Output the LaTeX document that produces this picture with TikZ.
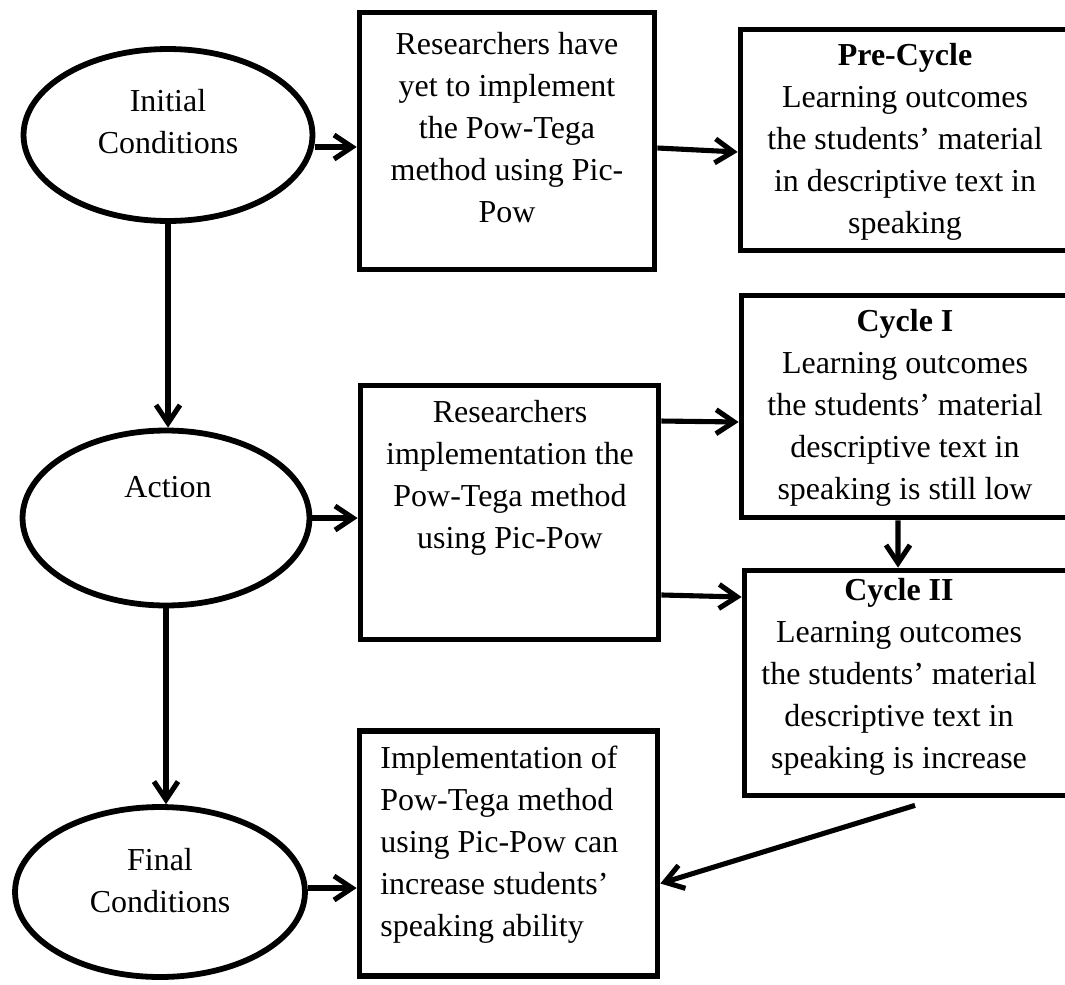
\documentclass[tikz,border=0pt]{standalone}
\usepackage{fontspec}
\setmainfont{Liberation Serif}
\usetikzlibrary{arrows.meta,shapes.geometric}

\tikzset{
  ellip/.style={draw, ellipse, line width=3.3pt, inner sep=0pt},
  boxframe/.style={draw, rectangle, line width=3.3pt, inner sep=0pt},
  txt/.style={font=\fontsize{18.2}{23.9}\selectfont, align=center, inner sep=0pt},
  arr/.style={line width=2.9pt, -{Straight Barb[length=0.36cm,width=0.48cm]}}
}

\begin{document}
\begin{tikzpicture}[x=0.02cm, y=-0.02cm]
        \useasboundingbox (0,0) rectangle (1065,984);
        \clip (0,0) rectangle (1065,984);

        % Initial Conditions
        \node[ellip, minimum width=5.78cm, minimum height=3.44cm] (init) at (168,135) {};
        \node[txt] (initt) at (168,122) {Initial\\Conditions};

        % Action
        \node[ellip, minimum width=5.74cm, minimum height=3.5cm] (act) at (166,518) {};
        \node[txt] (actt) at (168,487) {Action};

        % Final Conditions
        \node[ellip, minimum width=5.8cm, minimum height=3.4cm] (fin) at (160,892) {};
        \node[txt] (fint) at (160,881) {Final\\Conditions};

        % Researchers have yet
        \node[boxframe, minimum width=5.9cm, minimum height=5.14cm] (prep) at (507,141) {};
        \node[txt] (prept) at (507,128) {Researchers have\\yet to implement\\the Pow-Tega\\method using Pic-\\Pow};

        % Researchers implementation
        \node[boxframe, minimum width=5.96cm, minimum height=5.08cm] (impl) at (509.5,512.5) {};
        \node[txt] (implt) at (510,478) {Researchers\\implementation the\\Pow-Tega method\\using Pic-Pow};

        % Implementation of Pow-Tega
        \node[boxframe, minimum width=5.96cm, minimum height=4.9cm] (result) at (508.5,853.5) {};
        \node[txt, align=left, anchor=west] (resultt) at (380,845) {Implementation of\\Pow-Tega method\\using Pic-Pow can\\increase students'\\speaking ability};

        % Pre-Cycle
        \node[boxframe, minimum width=6.58cm, minimum height=4.42cm] (pre) at (905,140) {};
        \node[txt] (pret) at (905,142) {\textbf{Pre-Cycle}\\Learning outcomes\\the students' material\\in descriptive text in\\speaking};

        % Cycle I
        \node[boxframe, minimum width=6.54cm, minimum height=4.44cm] (cyc1) at (905,406.5) {};
        \node[txt] (cyc1t) at (905,408) {\textbf{Cycle I}\\Learning outcomes\\the students' material\\descriptive text in\\speaking is still low};

        % Cycle II
        \node[boxframe, minimum width=6.5cm, minimum height=4.5cm] (cyc2) at (907,683) {};
        \node[txt] (cyc2t) at (899,677) {\textbf{Cycle II}\\Learning outcomes\\the students' material\\descriptive text in\\speaking is increase};
        \coordinate (c2tail) at ([xshift=0.16cm,yshift=-0.14cm]cyc2.south);

        % Arrows
        \draw[arr] ([yshift=-0.24cm]init.east) -- ([yshift=-0.24cm]init.east -| prep.west);
        \draw[arr] ([yshift=-0.14cm]prep.east) -- ([yshift=-0.24cm]pre.west);
        \draw[arr] (init.south) -- (init.south |- act.north);
        \draw[arr] (act.south) -- (act.south |- fin.north);
        \draw[arr] (act.east) -- (act.east -| impl.west);
        \draw[arr] ([yshift=1.83cm]impl.east) -- ([yshift=-0.31cm]cyc1.west);
        \draw[arr] ([yshift=-1.65cm]impl.east) -- ([yshift=1.72cm]cyc2.west);
        \draw[arr] ([xshift=-0.14cm]cyc1.south) -- ([xshift=-0.18cm]cyc2.north);
        \draw[arr] ([yshift=0.08cm]fin.east) -- ([yshift=0.08cm]fin.east -| result.west);
        \draw[arr] (c2tail) -- ([yshift=-0.6cm]result.east);
      \end{tikzpicture}
\end{document}
